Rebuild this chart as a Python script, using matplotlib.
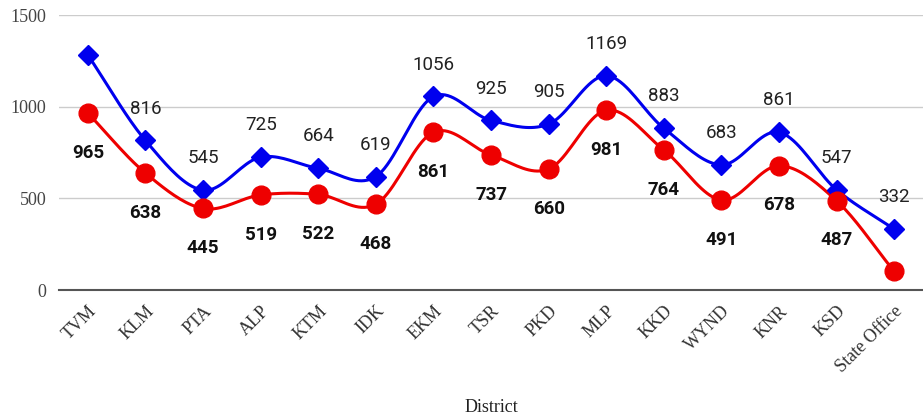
import numpy as np
import matplotlib.pyplot as plt

districts = ['TVM', 'KLM', 'PTA', 'ALP', 'KTM', 'IDK', 'EKM', 'TSR', 'PKD',
             'MLP', 'KKD', 'WYND', 'KNR', 'KSD', 'State Office']
blue_vals = [1282, 816, 545, 725, 664, 619, 1056, 925, 905, 1169, 883, 683, 861, 547, 332]
red_vals = [965, 638, 445, 519, 522, 468, 861, 737, 660, 981, 764, 491, 678, 487, 102]
# labels shown in the chart (None = not shown)
blue_labels = [None, 816, 545, 725, 664, 619, 1056, 925, 905, 1169, 883, 683, 861, 547, 332]
red_labels = [965, 638, 445, 519, 522, 468, 861, 737, 660, 981, 764, 491, 678, 487, None]


def smooth(x, y, n=20):
    # Catmull-Rom spline through the points
    x = np.asarray(x, float)
    y = np.asarray(y, float)
    px = np.concatenate([[2 * x[0] - x[1]], x, [2 * x[-1] - x[-2]]])
    py = np.concatenate([[2 * y[0] - y[1]], y, [2 * y[-1] - y[-2]]])
    xs, ys = [], []
    t = np.linspace(0, 1, n, endpoint=False)
    for i in range(1, len(px) - 2):
        for p, out in ((px, xs), (py, ys)):
            p0, p1, p2, p3 = p[i - 1], p[i], p[i + 1], p[i + 2]
            out.extend(0.5 * ((2 * p1) + (-p0 + p2) * t
                              + (2 * p0 - 5 * p1 + 4 * p2 - p3) * t ** 2
                              + (-p0 + 3 * p1 - 3 * p2 + p3) * t ** 3))
    xs.append(x[-1])
    ys.append(y[-1])
    return np.array(xs), np.array(ys)


fig = plt.figure(figsize=(9.23, 4.18), dpi=100)
ax = fig.add_axes([0.064, 0.306, 0.936, 0.658])

x = np.arange(len(districts))

bx, by = smooth(x, blue_vals)
rx, ry = smooth(x, red_vals)
ax.plot(bx, by, color='#0000ee', lw=2.2, zorder=3)
ax.plot(x, blue_vals, 'D', color='#0000ee', ms=10.5, zorder=4)
ax.plot(rx, ry, color='#ee0000', lw=2.2, zorder=3)
ax.plot(x, red_vals, 'o', color='#ee0000', ms=13.5, zorder=5)

for xi, v, lab in zip(x, blue_vals, blue_labels):
    if lab is not None:
        ax.annotate(str(lab), (xi, v), xytext=(0, 23), textcoords='offset points',
                    ha='center', va='center', fontsize=13.5, family='Roboto',
                    color='#222222', zorder=6)
for xi, v, lab in zip(x, red_vals, red_labels):
    if lab is not None:
        ax.annotate(str(lab), (xi, v), xytext=(0, -28.5), textcoords='offset points',
                    ha='center', va='center', fontsize=13.5, family='Roboto',
                    fontweight='bold', color='#111111', zorder=6)

ax.set_xlim(-0.5, 14.5)
ax.set_ylim(0, 1500)
ax.set_yticks([0, 500, 1000, 1500])
ax.set_xticks(x)
ax.set_xticklabels(districts, rotation=45, ha='right', rotation_mode='anchor',
                   family='Liberation Serif', fontsize=13, color='#333333')
for lbl in ax.get_yticklabels():
    lbl.set_family('Liberation Serif')
    lbl.set_fontsize(13)
    lbl.set_color('#444444')
ax.tick_params(axis='y', length=0, pad=9)
ax.tick_params(axis='x', length=0, pad=9)
ax.grid(axis='y', color='#cccccc', lw=1)
ax.set_axisbelow(True)
for s in ['top', 'right', 'left']:
    ax.spines[s].set_visible(False)
ax.spines['bottom'].set_color('#555555')
ax.spines['bottom'].set_linewidth(1.5)

fig.text(0.532, 0.024, 'District', ha='center', va='center',
         family='Liberation Serif', fontsize=13, color='#222222')

fig.savefig('out.png', dpi=100)
